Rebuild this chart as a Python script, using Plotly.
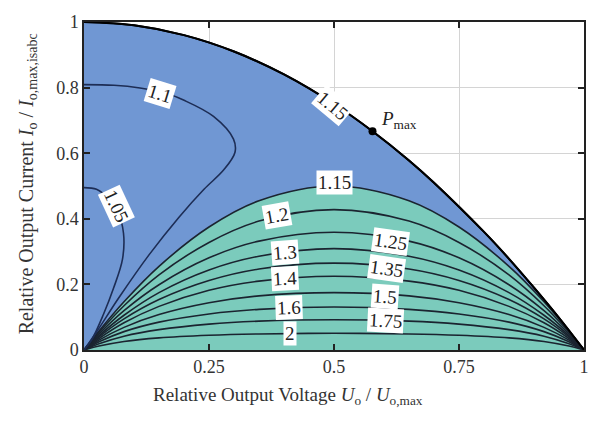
import plotly.graph_objects as go

# ---------------- data ----------------
# outer boundary (1.15 level, P_max on it)
outer_x = [0, 0.1, 0.2, 0.3, 0.4, 0.5, 0.577, 0.65, 0.7, 0.8, 0.85, 0.9, 0.95, 1]
outer_y = [1, 0.99, 0.96, 0.91, 0.84, 0.75, 0.667, 0.578, 0.51, 0.36, 0.278, 0.19, 0.098, 0]

# contour 1.1 (blue region)
c110_x = [0, 0.06, 0.112, 0.16, 0.199, 0.259, 0.299, 0.302, 0.28, 0.24, 0.19, 0.13, 0.07, 0.025, 0]
c110_y = [0.809, 0.807, 0.799, 0.785, 0.762, 0.712, 0.643, 0.603, 0.55, 0.49, 0.405, 0.29, 0.16, 0.055, 0]

# contour 1.05 (blue region)
c105_x = [0, 0.025, 0.05, 0.068, 0.079, 0.077, 0.059, 0.039, 0.015, 0]
c105_y = [0.495, 0.49, 0.46, 0.42, 0.356, 0.277, 0.188, 0.109, 0.03, 0]

# inner contours (green region)
inner_x = [0, 0.03, 0.08, 0.15, 0.25, 0.35, 0.5, 0.65, 0.75, 0.85, 0.92, 0.97, 1]
c115_y = [0, 0.058, 0.147, 0.255, 0.375, 0.455, 0.5, 0.455, 0.375, 0.255, 0.147, 0.057, 0]
c120_y = [0, 0.054, 0.135, 0.229, 0.328, 0.393, 0.428, 0.393, 0.328, 0.229, 0.135, 0.054, 0]
c125_y = [0, 0.049, 0.120, 0.199, 0.281, 0.332, 0.359, 0.332, 0.281, 0.199, 0.120, 0.049, 0]
c130_y = [0, 0.044, 0.106, 0.175, 0.244, 0.286, 0.309, 0.286, 0.244, 0.175, 0.106, 0.044, 0]
c135_y = [0, 0.040, 0.095, 0.154, 0.212, 0.247, 0.265, 0.247, 0.212, 0.154, 0.095, 0.040, 0]
c140_y = [0, 0.035, 0.083, 0.133, 0.182, 0.210, 0.225, 0.210, 0.182, 0.133, 0.083, 0.035, 0]
c150_y = [0, 0.030, 0.069, 0.108, 0.144, 0.165, 0.175, 0.165, 0.144, 0.108, 0.069, 0.030, 0]
c160_y = [0, 0.025, 0.056, 0.085, 0.110, 0.124, 0.131, 0.124, 0.110, 0.085, 0.056, 0.025, 0]
c175_y = [0, 0.019, 0.042, 0.062, 0.079, 0.088, 0.092, 0.088, 0.079, 0.062, 0.042, 0.019, 0]
c200_y = [0, 0.012, 0.026, 0.037, 0.045, 0.049, 0.051, 0.049, 0.045, 0.037, 0.026, 0.012, 0]
inner_series = [c115_y, c120_y, c125_y, c130_y, c135_y, c140_y, c150_y, c160_y, c175_y, c200_y]

pmax_x = [0.577]
pmax_y = [0.667]

# contour labels: text, x, y, angle
label_text = ["1.15", "1.1", "1.05", "1.15", "1.2", "1.25", "1.3", "1.35", "1.4", "1.5", "1.6", "1.75", "2"]
label_x = [0.497, 0.152, 0.064, 0.5, 0.385, 0.612, 0.402, 0.605, 0.402, 0.602, 0.409, 0.602, 0.412]
label_y = [0.745, 0.781, 0.44, 0.51, 0.41, 0.331, 0.297, 0.247, 0.218, 0.163, 0.129, 0.089, 0.05]
label_angle = [40, 17, 65, 0, -10, 8, -4, 8, -3, 4, -2, 3, 0]

xtick_vals = [0, 0.25, 0.5, 0.75, 1]
xtick_text = ["0", "0.25", "0.5", "0.75", "1"]
ytick_vals = [0, 0.2, 0.4, 0.6, 0.8, 1]
ytick_text = ["0", "0.2", "0.4", "0.6", "0.8", "1"]

BLUE = "#7097d3"
GREEN = "#7bcbbc"
FONT = "Liberation Serif"

fig = go.Figure()

# blue area
fig.add_trace(go.Scatter(x=outer_x, y=outer_y, mode="lines", fill="tozeroy",
                         fillcolor=BLUE, line=dict(color="black", width=2, shape="spline"),
                         hoverinfo="skip", showlegend=False))
# green area
fig.add_trace(go.Scatter(x=inner_x, y=c115_y, mode="lines", fill="tozeroy",
                         fillcolor=GREEN, line=dict(color="#1b2430", width=1.6, shape="spline"),
                         hoverinfo="skip", showlegend=False))
for ys in inner_series[1:]:
    fig.add_trace(go.Scatter(x=inner_x, y=ys, mode="lines",
                             line=dict(color="#1b2430", width=1.6, shape="spline"),
                             hoverinfo="skip", showlegend=False))
fig.add_trace(go.Scatter(x=c110_x, y=c110_y, mode="lines",
                         line=dict(color="#1d2d55", width=1.6, shape="spline"),
                         hoverinfo="skip", showlegend=False))
fig.add_trace(go.Scatter(x=c105_x, y=c105_y, mode="lines",
                         line=dict(color="#1d2d55", width=1.6, shape="spline"),
                         hoverinfo="skip", showlegend=False))
# redraw outer boundary on top
fig.add_trace(go.Scatter(x=outer_x, y=outer_y, mode="lines",
                         line=dict(color="black", width=2, shape="spline"),
                         hoverinfo="skip", showlegend=False))
fig.add_trace(go.Scatter(x=pmax_x, y=pmax_y, mode="markers",
                         marker=dict(color="black", size=8),
                         hoverinfo="skip", showlegend=False))

for t, x, y, a in zip(label_text, label_x, label_y, label_angle):
    fig.add_annotation(x=x, y=y, text=t, showarrow=False, textangle=a,
                       bgcolor="white", borderpad=1,
                       font=dict(family=FONT, size=19, color="#222"))

fig.add_annotation(x=0.59, y=0.7, text="<i>P</i><sub>max</sub>", showarrow=False,
                   xanchor="left", yanchor="middle",
                   font=dict(family=FONT, size=19, color="#222"))

# axis titles
fig.add_annotation(xref="paper", yref="paper", x=0.408, y=-0.14,
                   text="Relative Output Voltage <i>U</i><sub>o</sub> / <i>U</i><sub>o,max</sub>",
                   showarrow=False, xanchor="center", yanchor="middle",
                   font=dict(family=FONT, size=19, color="#333"))
fig.add_annotation(xref="paper", yref="paper", x=-0.114, y=0.505, textangle=-90,
                   text="Relative Output Current <i>I</i><sub>o</sub> / <i>I</i><sub>o,max,isabc</sub>",
                   showarrow=False, xanchor="center", yanchor="middle",
                   font=dict(family=FONT, size=20, color="#333"))

axis_common = dict(showgrid=True, gridcolor="#d4d4d4", gridwidth=1,
                   showline=True, linecolor="#222", linewidth=1.5, mirror="ticks",
                   ticks="inside", ticklen=6, tickwidth=1.5, tickcolor="#222",
                   zeroline=False, tickfont=dict(family=FONT, size=18, color="#333"))

fig.update_xaxes(range=[0, 1], tickvals=xtick_vals, ticktext=xtick_text, **axis_common)
fig.update_yaxes(range=[0, 1], tickvals=ytick_vals, ticktext=ytick_text, **axis_common)

fig.update_layout(width=602, height=422, margin=dict(l=84, r=18, t=13, b=72),
                  plot_bgcolor="white", paper_bgcolor="white")

fig.write_html("out.html")
